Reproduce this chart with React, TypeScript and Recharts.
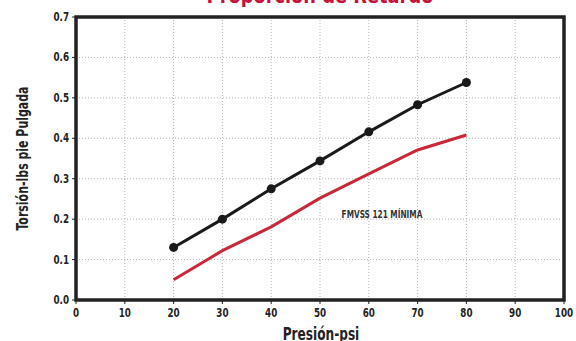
import { LineChart, Line, XAxis, YAxis, CartesianGrid, ReferenceArea, ReferenceDot } from 'recharts';

const pressures = [20, 30, 40, 50, 60, 70, 80];
const measured = [0.13, 0.2, 0.275, 0.344, 0.416, 0.483, 0.538];
const fmvssMin = [0.05, 0.122, 0.181, 0.252, 0.312, 0.371, 0.408];
const xTicks = [0, 10, 20, 30, 40, 50, 60, 70, 80, 90, 100];
const yTicks = [0, 0.1, 0.2, 0.3, 0.4, 0.5, 0.6, 0.7];

const data = pressures.map((p, i) => ({ psi: p, measured: measured[i], min: fmvssMin[i] }));

const FONT = '"DejaVu Sans Condensed", "DejaVu Sans", sans-serif';

// condensed text: squeeze horizontally so the glyphs look like the narrow face in the reference
function CondText({ x, y, size, sx = 0.8, anchor = 'middle', rotate = 0, color = '#222', children }: any) {
  return (
    <text
      transform={`translate(${x},${y}) rotate(${rotate}) scale(${sx},1)`}
      textAnchor={anchor}
      fontFamily={FONT}
      fontWeight={700}
      fontSize={size}
      fill={color}
    >
      {children}
    </text>
  );
}

function XTick({ x, y, payload }: any) {
  return (
    <CondText x={x} y={y + 11} size={12.5} sx={0.78}>
      {payload.value}
    </CondText>
  );
}

function YTick({ x, y, payload }: any) {
  return (
    <CondText x={x - 1} y={y + 4} size={12.5} sx={0.78} anchor="end">
      {Number(payload.value).toFixed(1)}
    </CondText>
  );
}

export default function App() {
  return (
    <div style={{ position: 'absolute', left: 0, top: 0, width: 576, height: 341, background: '#fff', overflow: 'hidden' }}>
      <div
        style={{
          position: 'absolute',
          top: -15,
          left: 0,
          width: 640,
          textAlign: 'center',
          fontFamily: FONT,
          fontWeight: 700,
          fontSize: 22,
          color: '#c4123a',
          lineHeight: '22px',
          transform: 'scaleX(0.9)',
          transformOrigin: '320px 0',
        }}
      >
        Proporción de Retardo
      </div>
      <LineChart width={576} height={341} data={data} margin={{ top: 17, right: 12, left: 36, bottom: 11 }}>
        <CartesianGrid stroke="#b5b5b5" strokeDasharray="1 2" />
        <XAxis
          type="number"
          dataKey="psi"
          domain={[0, 100]}
          ticks={xTicks}
          interval={0}
          height={30}
          tick={<XTick />}
          tickLine={{ stroke: '#222' }}
          tickSize={4}
          axisLine={false}
          label={{
            content: ({ viewBox }: any) => (
              <CondText x={viewBox.x + viewBox.width / 2 + 1} y={340} size={18} sx={0.75}>
                Presión-psi
              </CondText>
            ),
          }}
        />
        <YAxis
          type="number"
          domain={[0, 0.7]}
          ticks={yTicks}
          interval={0}
          width={40}
          tick={<YTick />}
          tickLine={{ stroke: '#222' }}
          tickSize={4}
          axisLine={false}
          label={{
            content: ({ viewBox }: any) => (
              <CondText x={28} y={viewBox.y + viewBox.height / 2} size={16.5} sx={0.74} rotate={-90}>
                Torsión-lbs pie Pulgada
              </CondText>
            ),
          }}
        />
        <ReferenceArea x1={0} x2={100} y1={0} y2={0.7} fill="none" stroke="#222" strokeWidth={3.5} ifOverflow="visible" />
        <Line type="linear" dataKey="min" stroke="#c8283a" strokeWidth={3} dot={false} isAnimationActive={false} />
        <Line
          type="linear"
          dataKey="measured"
          stroke="#1a1a1a"
          strokeWidth={3}
          dot={{ r: 4.5, fill: '#1a1a1a', stroke: '#1a1a1a', strokeWidth: 0 }}
          isAnimationActive={false}
        />
        <ReferenceDot
          x={62.7}
          y={0.213}
          r={0}
          fill="none"
          stroke="none"
          label={{
            content: ({ viewBox }: any) => (
              <CondText x={viewBox.x} y={viewBox.y + 4} size={10.5} sx={0.78} color="#333">
                FMVSS 121 MÍNIMA
              </CondText>
            ),
          }}
        />
      </LineChart>
    </div>
  );
}
